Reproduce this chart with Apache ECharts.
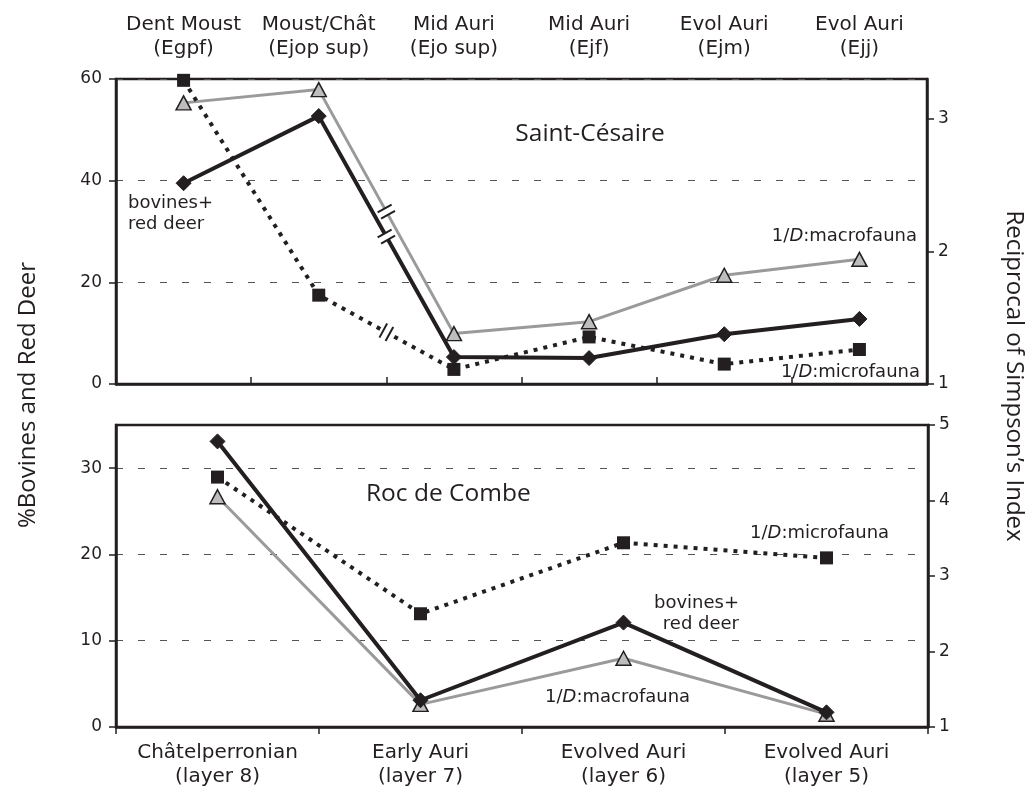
<!DOCTYPE html>
<html>
<head>
<meta charset="utf-8">
<script src="https://cdn.jsdelivr.net/npm/echarts@6/dist/echarts.min.js"></script>
<style>
  html, body { margin: 0; padding: 0; background: #fff; }
  #chart { width: 1030px; height: 789px; }
</style>
</head>
<body>
<div id="chart"></div>
<script>
// Saint-Césaire levels (top panel)
const topCategories = ['Dent Moust\n(Egpf)', 'Moust/Chât\n(Ejop sup)', 'Mid Auri\n(Ejo sup)', 'Mid Auri\n(Ejf)', 'Evol Auri\n(Ejm)', 'Evol Auri\n(Ejj)'];
const topBovines = [39.5, 52.7, 5.3, 5.1, 9.8, 12.8];      // % bovines + red deer
const topMacro   = [3.12, 3.22, 1.38, 1.47, 1.82, 1.94];   // 1/D macrofauna
const topMicro   = [3.29, 1.67, 1.11, 1.355, 1.15, 1.26];  // 1/D microfauna
const topLeftTicks  = [0, 20, 40, 60];
const topRightTicks = [1, 2, 3];

// Roc de Combe layers (bottom panel)
const botCategories = ['Châtelperronian\n(layer 8)', 'Early Auri\n(layer 7)', 'Evolved Auri\n(layer 6)', 'Evolved Auri\n(layer 5)'];
const botBovines = [33.1, 3.1, 12.1, 1.7];
const botMacro   = [4.05, 1.30, 1.91, 1.17];
const botMicro   = [4.31, 2.50, 3.44, 3.24];
const botLeftTicks  = [0, 10, 20, 30];
const botRightTicks = [1, 2, 3, 4, 5];

// segment (between categories 1 and 2) carrying a scale-break symbol in the top panel
const breakSegment = 1;

const INK = '#231f20';
const GREY_LINE = '#9a9a9a';
const GREY_FILL = '#bdbdbd';
const TICK_FONT = 'DejaVu Sans';

const chart = echarts.init(document.getElementById('chart'));

function xAxisCfg(gridIndex, data, position) {
  return {
    type: 'category', gridIndex, data, position,
    boundaryGap: true,
    axisLine: { show: true, lineStyle: { color: INK, width: 2.5 } },
    axisTick: { show: true, inside: false, length: 7, lineStyle: { color: INK, width: 1.5 } },
    axisLabel: {
      color: INK, fontFamily: TICK_FONT, fontSize: 20, lineHeight: 24,
      margin: position === 'top' ? 18 : 14, interval: 0
    },
    splitLine: { show: false }
  };
}

function yAxisCfg(gridIndex, min, max, interval, ticks, position, showSplit) {
  return {
    type: 'value', gridIndex, min, max, interval, position,
    axisLine: { show: true, onZero: false, lineStyle: { color: INK, width: 2.5 } },
    axisTick: { show: true, inside: false, length: 7, customValues: ticks, lineStyle: { color: INK, width: 1.5 } },
    axisLabel: { color: INK, fontFamily: TICK_FONT, fontSize: 17, margin: position === 'left' ? 14 : 11, customValues: ticks },
    splitLine: showSplit ? { show: true, lineStyle: { color: '#555', width: 1, type: [7, 15] } } : { show: false }
  };
}

function lineSeries(name, data, xi, yi, kind) {
  const base = { name, type: 'line', data, xAxisIndex: xi, yAxisIndex: yi, animation: false, clip: false };
  if (kind === 'bovines') {
    return Object.assign(base, {
      z: 5, symbol: 'diamond', symbolSize: [15, 15],
      lineStyle: { color: INK, width: 4 },
      itemStyle: { color: INK, borderColor: INK, borderWidth: 1 }
    });
  }
  if (kind === 'macro') {
    return Object.assign(base, {
      z: 3, symbol: 'triangle', symbolSize: [15, 14],
      lineStyle: { color: GREY_LINE, width: 3 },
      itemStyle: { color: GREY_FILL, borderColor: INK, borderWidth: 1.5 }
    });
  }
  return Object.assign(base, {
    z: 4, symbol: 'rect', symbolSize: 13,
    lineStyle: { color: INK, width: 4, type: [4, 6], cap: 'butt' },
    itemStyle: { color: INK }
  });
}

// Double-bar break symbol drawn across a line segment, located through the axes' scales.
function breakSeries(data, xi, yi) {
  return {
    type: 'custom', xAxisIndex: xi, yAxisIndex: yi, z: 10, animation: false, clip: false,
    encode: { x: 0, y: [1, 2] },
    data,
    renderItem(params, api) {
      const i = api.value(0);
      const p1 = api.coord([i, api.value(1)]);
      const p2 = api.coord([i + 1, api.value(2)]);
      const dx = p2[0] - p1[0], dy = p2[1] - p1[1];
      const len = Math.hypot(dx, dy);
      const d = [dx / len, dy / len];
      const n = [-d[1], d[0]];
      const c = [p1[0] + dx * 0.5, p1[1] + dy * 0.5];
      const g = 3.5, half = 8, wHalf = 6;
      const pt = (a, b) => [c[0] + d[0] * a + n[0] * b, c[1] + d[1] * a + n[1] * b];
      return {
        type: 'group',
        children: [
          { type: 'polygon', shape: { points: [pt(-g, -wHalf), pt(g, -wHalf), pt(g, wHalf), pt(-g, wHalf)] }, style: { fill: '#fff' } },
          { type: 'line', shape: { x1: pt(-g, -half)[0], y1: pt(-g, -half)[1], x2: pt(-g, half)[0], y2: pt(-g, half)[1] }, style: { stroke: INK, lineWidth: 2 } },
          { type: 'line', shape: { x1: pt(g, -half)[0], y1: pt(g, -half)[1], x2: pt(g, half)[0], y2: pt(g, half)[1] }, style: { stroke: INK, lineWidth: 2 } }
        ]
      };
    }
  };
}

function note(text, x, y, align) {
  return {
    type: 'text', x, y, z: 20, silent: true,
    style: {
      text, fill: INK, font: '18px "DejaVu Sans"', align, verticalAlign: 'middle', lineHeight: 21,
      rich: {
        n: { fontFamily: TICK_FONT, fontSize: 18, fill: INK },
        i: { fontFamily: TICK_FONT, fontSize: 18, fontStyle: 'italic', fill: INK }
      }
    }
  };
}

const b = breakSegment;
const option = {
  backgroundColor: '#fff',
  animation: false,
  grid: [
    { left: 116, right: 103, top: 79, height: 305, show: true, borderColor: INK, borderWidth: 2.5, backgroundColor: 'transparent' },
    { left: 116, right: 102, top: 425, height: 302, show: true, borderColor: INK, borderWidth: 2.5, backgroundColor: 'transparent' }
  ],
  xAxis: [
    xAxisCfg(0, topCategories, 'top'),
    xAxisCfg(1, botCategories, 'bottom')
  ],
  yAxis: [
    yAxisCfg(0, 0, 60, 20, topLeftTicks, 'left', true),
    yAxisCfg(0, 1, 3.3, 1, topRightTicks, 'right', false),
    yAxisCfg(1, 0, 35, 10, botLeftTicks, 'left', true),
    yAxisCfg(1, 1, 5, 1, botRightTicks, 'right', false)
  ],
  series: [
    lineSeries('1/D macrofauna', topMacro, 0, 1, 'macro'),
    lineSeries('1/D microfauna', topMicro, 0, 1, 'micro'),
    lineSeries('bovines + red deer', topBovines, 0, 0, 'bovines'),
    lineSeries('1/D macrofauna', botMacro, 1, 3, 'macro'),
    lineSeries('1/D microfauna', botMicro, 1, 3, 'micro'),
    lineSeries('bovines + red deer', botBovines, 1, 2, 'bovines'),
    breakSeries([
      [b, topMacro[b], topMacro[b + 1]],
      [b, topMicro[b], topMicro[b + 1]]
    ], 0, 1),
    breakSeries([
      [b, topBovines[b], topBovines[b + 1]]
    ], 0, 0)
  ],
  graphic: [
    { type: 'text', x: 590, y: 134, z: 20, style: { text: 'Saint-Césaire', font: '24.5px "Open Sans"', fill: INK, align: 'center', verticalAlign: 'middle' } },
    { type: 'text', x: 366, y: 494, z: 20, style: { text: 'Roc de Combe', font: '24.5px "Open Sans"', fill: INK, align: 'left', verticalAlign: 'middle' } },
    note('bovines+\nred deer', 128, 213.5, 'left'),
    note('{n|1/}{i|D}{n|:macrofauna}', 917, 236, 'right'),
    note('{n|1/}{i|D}{n|:microfauna}', 920, 372, 'right'),
    note('{n|1/}{i|D}{n|:microfauna}', 750, 533, 'left'),
    note('bovines+\nred deer', 739, 613.5, 'right'),
    note('{n|1/}{i|D}{n|:macrofauna}', 545, 697, 'left'),
    { type: 'text', x: 28, y: 395, rotation: Math.PI / 2, z: 20, style: { text: '%Bovines and Red Deer', font: '24px "Open Sans"', fill: INK, align: 'center', verticalAlign: 'middle' } },
    { type: 'text', x: 1014, y: 376, rotation: -Math.PI / 2, z: 20, style: { text: 'Reciprocal of Simpson’s Index', font: '24px "Open Sans"', fill: INK, align: 'center', verticalAlign: 'middle' } }
  ]
};

chart.setOption(option);
</script>
</body>
</html>
